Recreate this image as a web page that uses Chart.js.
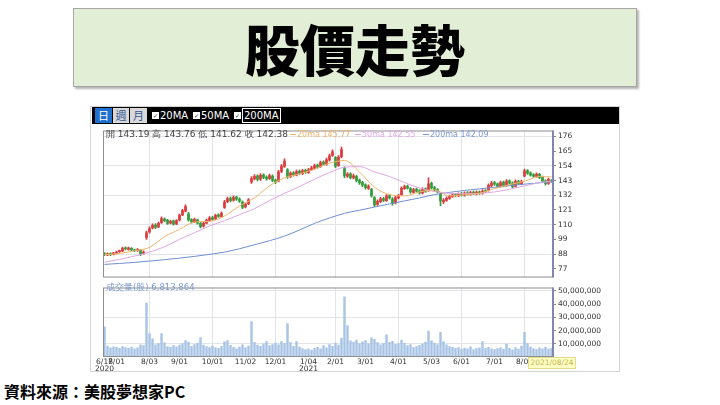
<!DOCTYPE html>
<html>
<head>
<meta charset="utf-8">
<script src="https://cdn.jsdelivr.net/npm/chart.js"></script>
<style>
  body { margin:0; width:720px; height:405px; background:#fff; position:relative; overflow:hidden; font-family:"DejaVu Sans", sans-serif; }
  .abs { position:absolute; white-space:nowrap; }
  #title { left:73px; top:8px; width:562px; height:77px; background:#e2efd6; border:1px solid #a6a6a6;
           box-shadow:2px 2px 2px #b4b4b4; font-family:"Noto Sans CJK TC", sans-serif; font-weight:900;
           font-size:55px; line-height:77px; text-align:center; color:#000; }
  #frame { left:90px; top:106px; width:528px; height:264px; border:1px solid #d4d4d4; background:#fff; }
  #toolbar { left:92px; top:107px; width:527px; height:17px; background:#000; }
  .btn { top:108px; height:15px; width:17px; font-family:"Noto Sans CJK TC", sans-serif; font-size:11px; line-height:15px; text-align:center; }
  .chk { top:112px; width:7px; height:7px; background:#fff; color:#222; font-size:6px; line-height:7px; text-align:center; }
  .ma { top:109px; color:#fff; font-size:10px; line-height:13px; }
  canvas { position:absolute; }
  .leg { font-size:9px; line-height:11px; }
  .mal { font-size:8px; line-height:11px; }
  .dash { display:inline-block; width:6px; height:0; border-top:1px solid; vertical-align:middle; margin-right:1px; }
</style>
</head>
<body>
<div id="title" class="abs">股價走勢</div>
<div id="frame" class="abs"></div>
<div id="toolbar" class="abs"></div>
<div class="abs btn" style="left:95px;background:#1f6fd0;color:#fff;">日</div>
<div class="abs btn" style="left:113px;width:16px;background:#d9d9d9;color:#35589a;">週</div>
<div class="abs btn" style="left:130px;background:#d9d9d9;color:#35589a;">月</div>
<div class="abs chk" style="left:152px;">✓</div>
<div class="abs ma" style="left:160px;">20MA</div>
<div class="abs chk" style="left:193px;">✓</div>
<div class="abs ma" style="left:201px;">50MA</div>
<div class="abs chk" style="left:234px;">✓</div>
<div class="abs ma" style="left:242px;top:108px;border:1px solid #fff;padding:0 1px;">200MA</div>

<canvas id="priceChart" width="527" height="160" style="left:92px;top:124px;"></canvas>
<canvas id="volChart" width="527" height="92" style="left:92px;top:281px;"></canvas>

<div class="abs leg" style="left:106px;top:129px;color:#444;">開 143.19 高 143.76 低 141.62 收 142.38</div>
<div class="abs mal" style="left:290px;top:129px;color:#f0b26a;"><span class="dash"></span>20ma 145.77</div>
<div class="abs mal" style="left:355px;top:129px;color:#e0a6e6;"><span class="dash"></span>50ma 142.55</div>
<div class="abs mal" style="left:423px;top:129px;color:#7d9ad6;"><span class="dash"></span>200ma 142.09</div>
<div class="abs leg" style="left:106px;top:282px;color:#7d9bd0;font-size:8.5px;">成交量(股) 6,813,864</div>
<div class="abs" style="left:528px;top:357px;width:46px;height:10px;background:#ffffc8;border:1px solid #e6d98a;color:#c9b54a;font-size:7.5px;line-height:10px;text-align:center;">2021/08/24</div>

<div class="abs" style="left:4px;top:381px;font-family:'Noto Sans CJK TC', sans-serif;font-weight:700;font-size:16px;line-height:20px;color:#000;">資料來源：美股夢想家PC</div>

<script>
// two trading days per candle, 2020/06/18 .. 2021/08/24
const opens = [
  88.4, 87.4, 88.3, 87.8, 88.6, 89.8, 90.4, 92.6, 91.5, 92.3,
  91.0, 90.6, 91.0, 88.3, 100.5, 104.5, 107.5, 109.8, 108.4, 111.5,
  114.2, 113.4, 111.2, 112.8, 110.6, 113.5, 117.4, 120.2, 118.0, 113.8,
  112.2, 113.6, 111.0, 108.8, 111.2, 113.2, 115.4, 114.3, 117.4, 116.0,
  123.0, 127.2, 129.8, 128.3, 130.6, 129.2, 127.0, 123.2, 125.8, 142.0,
  144.2, 146.5, 144.0, 147.2, 145.6, 144.5, 146.4, 143.4, 142.5, 149.8,
  153.5, 151.0, 146.0, 148.8, 147.0, 150.0, 148.2, 150.6, 149.0, 151.2,
  152.3, 154.5, 153.4, 156.8, 155.0, 158.4, 161.8, 160.2, 154.2, 160.8,
  152.0, 146.3, 148.0, 145.0, 146.2, 143.4, 141.6, 139.8, 137.2, 136.5,
  130.2, 125.2, 127.2, 129.6, 128.0, 131.8, 129.4, 126.2, 130.0, 132.4,
  137.0, 138.8, 137.0, 134.2, 136.5, 135.4, 133.6, 136.8, 135.4, 141.0,
  137.8, 136.2, 133.0, 127.2, 128.2, 129.6, 131.0, 132.6, 131.6, 133.4,
  132.0, 133.9, 132.6, 134.4, 133.0, 134.6, 133.4, 135.4, 135.6, 139.2,
  141.5, 140.6, 138.4, 141.8, 139.4, 142.8, 141.2, 138.6, 142.4, 140.6,
  146.5, 150.4, 148.8, 147.4, 146.0, 147.6, 145.6, 142.8, 140.8, 143.19
];
const highs = [
  89.2, 88.9, 89.0, 89.4, 90.3, 91.0, 93.2, 93.4, 93.3, 92.9,
  91.8, 92.2, 91.5, 90.4, 105.2, 108.4, 110.6, 110.9, 112.0, 115.8,
  115.2, 114.0, 113.4, 113.5, 113.8, 118.0, 121.4, 124.8, 119.2, 114.6,
  115.0, 114.2, 111.8, 111.9, 114.2, 116.1, 116.2, 117.9, 118.2, 119.6,
  128.2, 130.6, 130.8, 131.5, 131.4, 130.0, 127.8, 126.4, 129.6, 146.0,
  147.4, 147.2, 148.2, 148.0, 146.6, 147.8, 147.2, 144.2, 150.6, 155.0,
  159.2, 152.0, 149.6, 149.8, 150.8, 151.0, 151.4, 151.6, 152.1, 153.6,
  155.3, 155.4, 157.5, 157.8, 159.8, 162.8, 166.0, 161.0, 161.6, 168.0,
  153.2, 149.0, 148.8, 147.8, 147.0, 144.2, 142.4, 140.6, 139.8, 137.2,
  131.0, 128.6, 130.4, 130.5, 132.6, 132.8, 130.2, 131.2, 132.8, 138.4,
  139.6, 139.7, 137.8, 137.2, 137.4, 136.2, 137.6, 137.6, 145.0, 141.8,
  138.6, 137.0, 133.8, 129.6, 130.8, 132.2, 133.3, 133.5, 133.9, 134.2,
  134.5, 134.7, 135.0, 135.2, 135.3, 135.4, 136.2, 136.3, 140.6, 142.4,
  142.5, 141.4, 142.6, 142.6, 143.8, 143.6, 142.0, 143.6, 143.2, 143.4,
  151.6, 151.2, 149.6, 148.2, 148.8, 148.4, 146.4, 143.6, 144.8, 143.76
];
const lows = [
  86.8, 86.9, 86.9, 87.3, 88.1, 89.2, 89.9, 91.2, 90.9, 90.6,
  89.8, 90.0, 86.8, 87.9, 99.0, 103.6, 106.8, 107.1, 107.8, 110.9,
  112.1, 110.2, 110.5, 109.6, 110.0, 112.9, 116.8, 119.6, 112.6, 111.2,
  111.6, 110.4, 107.6, 108.2, 110.6, 112.5, 113.2, 113.8, 115.4, 115.4,
  122.2, 126.5, 127.1, 127.6, 128.2, 126.6, 122.0, 122.5, 125.0, 140.8,
  143.4, 142.8, 143.2, 144.4, 143.3, 143.8, 142.2, 140.6, 142.0, 149.0,
  152.8, 144.6, 145.2, 146.3, 146.4, 147.6, 147.5, 148.4, 148.3, 150.5,
  151.6, 152.2, 152.8, 154.4, 154.3, 157.6, 161.0, 152.6, 153.5, 160.0,
  145.2, 145.4, 144.2, 144.3, 142.0, 140.2, 138.5, 136.6, 136.4, 130.6,
  123.4, 124.4, 126.5, 127.3, 127.4, 129.1, 124.6, 125.6, 129.3, 131.8,
  136.3, 136.5, 133.6, 133.5, 134.3, 132.9, 133.0, 134.2, 134.8, 136.6,
  134.9, 133.7, 124.2, 125.8, 127.4, 128.9, 130.4, 131.0, 131.0, 131.4,
  131.4, 132.0, 132.0, 132.4, 132.3, 132.7, 132.8, 134.0, 135.0, 138.5,
  139.4, 137.6, 137.8, 138.3, 138.8, 140.1, 137.4, 138.0, 139.9, 139.8,
  145.8, 147.6, 146.2, 145.3, 145.4, 144.4, 141.6, 139.6, 140.2, 141.62
];
const closes = [
  87.5, 88.2, 87.6, 88.8, 89.5, 90.2, 92.4, 91.8, 92.6, 91.2,
  90.5, 91.4, 88.0, 89.5, 104.0, 107.0, 109.5, 108.0, 111.0, 114.5,
  113.0, 111.0, 112.5, 110.4, 113.0, 117.0, 120.5, 123.5, 113.5, 112.0,
  114.0, 111.2, 108.5, 111.0, 113.4, 115.2, 114.0, 117.0, 116.2, 118.5,
  127.0, 129.5, 128.0, 130.4, 129.0, 127.5, 123.0, 125.5, 128.6, 144.5,
  146.2, 143.8, 147.0, 145.3, 144.2, 146.8, 143.1, 141.8, 149.5, 153.8,
  157.6, 145.8, 148.6, 147.2, 149.8, 148.4, 150.3, 149.2, 151.0, 152.5,
  154.2, 153.1, 156.4, 155.2, 158.6, 161.5, 164.5, 153.8, 160.5, 166.2,
  146.5, 147.8, 145.2, 146.6, 143.0, 141.2, 139.5, 137.6, 138.8, 131.5,
  124.8, 127.5, 129.4, 128.2, 131.5, 130.0, 125.8, 130.2, 131.8, 137.2,
  138.5, 137.4, 134.5, 136.2, 135.1, 133.8, 136.5, 135.0, 140.5, 137.5,
  135.8, 134.6, 127.8, 128.5, 129.8, 131.2, 132.4, 131.8, 133.0, 132.2,
  133.6, 132.8, 134.1, 133.2, 134.4, 133.5, 135.2, 134.8, 139.5, 141.2,
  140.3, 138.6, 141.5, 139.2, 142.6, 141.0, 138.4, 142.5, 140.8, 142.3,
  150.2, 148.6, 147.1, 146.2, 147.8, 145.3, 142.5, 140.6, 143.9, 142.38
];
// volume in millions of shares
const volumesM = [
  23, 8.5, 7.2, 8.0, 7.5, 6.8, 8.2, 7.4, 6.9, 7.8,
  6.5, 7.2, 9.5, 8.8, 41, 18, 14, 9.5, 10.5, 18,
  11, 8.2, 7.6, 8.8, 7.9, 9.2, 10.4, 12.7, 11.5, 8.4,
  9.6, 10.8, 15, 9.2, 8.1, 7.4, 8.6, 7.2, 6.8, 8.4,
  11.8, 12.7, 9.0, 7.6, 6.4, 7.8, 9.4, 7.2, 8.6, 27,
  11.4, 9.2, 8.4, 10.2, 12, 8.8, 9.6, 10.8, 9.4, 12,
  10.6, 25.5, 11.2, 8.4, 12, 7.8, 6.6, 5.8, 6.2, 5.4,
  6.8, 7.6, 6.4, 8.8, 7.2, 9.6, 8.4, 10.8, 9.2, 14.5,
  45.7, 24, 12.4, 11.6, 13, 10.4, 11.8, 12.6, 10.2, 14.8,
  13.6, 11.2, 9.4, 10.6, 17, 11.4, 12.2, 9.8, 10.4, 13,
  10.6, 8.8, 9.6, 7.4, 8.2, 9.0, 10.2, 11.6, 19.8, 12.4,
  10.8, 9.6, 19, 12, 9.4, 8.2, 7.6, 6.8, 7.4, 6.2,
  7.0, 6.4, 8.0, 5.8, 6.6, 7.2, 12, 6.8, 7.6, 6.4,
  5.8, 6.6, 7.2, 6.0, 10, 6.8, 5.6, 7.4, 6.2, 8.6,
  19, 10.4, 7.8, 6.6, 5.8, 7.2, 6.4, 7.8, 6.2, 6.813864
];

// moving averages read at every 5th candle
const maIdx = [0, 5, 10, 15, 20, 25, 30, 35, 40, 45, 50, 55, 60, 65, 70, 75,
               80, 85, 90, 95, 100, 105, 110, 115, 120, 125, 130, 135, 140, 145, 149];
const ma20 = [87.5, 88.5, 90.5, 93, 101, 106.5, 112, 112.5, 116.5, 124, 130, 139, 145, 148, 151.5, 156,
              158, 149.5, 138, 132.5, 131.5, 134.5, 136, 131.5, 132.5, 133.5, 137, 140, 142.5, 146, 145.77];
const ma50 = [82, 84, 86.5, 89.5, 93.5, 99, 104, 109, 113, 117.5, 122, 128, 133.5, 138.5, 144, 149,
              153, 153.5, 149.5, 146, 141.5, 137.5, 134.8, 133.5, 133.2, 133.5, 134.5, 136.5, 139, 141.5, 142.55];
const ma200 = [80.3, 81, 81.8, 82.8, 83.8, 85, 86.3, 87.8, 89.5, 92, 95, 98, 101.5, 106, 111, 115,
               118.5, 120.8, 123.2, 125.5, 127.8, 130, 132.5, 134.2, 135.6, 136.8, 138, 139.2, 140.3, 141.3, 142.09];

const priceTicks = [77, 88, 99, 110, 121, 132, 143, 154, 165, 176];
const priceGrid = [88, 110, 132, 154, 176];
const volumeTicks = [10000000, 20000000, 30000000, 40000000, 50000000];
const volumeGrid = [10000000, 30000000, 50000000];

const tickIdx  = [0, 4, 15, 25, 36, 47, 57, 68, 77, 87, 98, 109, 119, 130, 140];
const tickText = ["6/18", "7/01", "8/03", "9/01", "10/01", "11/02", "12/01", "1/04", "2/01", "3/01", "4/01", "5/03", "6/01", "7/01", "8/02"];
const yearText = ["2020", "", "", "", "", "", "", "2021", "", "", "", "", "", "", ""];
const gridText = ["8/03", "10/01", "12/01", "2/01", "4/01", "6/01", "8/02"];

const labels = closes.map((c, i) => i);
const upColor = "#dc3a3c";
const downColor = "#349c3a";
const candleColors = closes.map((c, i) => c >= opens[i] ? upColor : downColor);
const clear = "rgba(0,0,0,0)";

function maPoints(values) {
    return maIdx.map((idx, k) => ({ x: idx, y: values[k] }));
}

function setDateTicks(scale) {
    scale.ticks = tickIdx.map(v => ({ value: v }));
}

function dateGridColor(ctx) {
    return gridText.includes(tickText[ctx.index]) ? "#e3e3ea" : clear;
}

// panel frame like the original chart
const panelFrame = {
    id: "panelFrame",
    afterDraw(chart) {
        const { ctx, chartArea: a } = chart;
        ctx.save();
        ctx.strokeStyle = "#8e8e8e";
        ctx.lineWidth = 1;
        ctx.strokeRect(a.left + 0.5, a.top + 0.5, a.width - 1, a.height - 1);
        ctx.strokeStyle = "#7f86b0";
        ctx.lineWidth = 2;
        ctx.beginPath();
        ctx.moveTo(a.right, a.top);
        ctx.lineTo(a.right, a.bottom);
        ctx.stroke();
        ctx.restore();
    }
};

const axisFont = { family: "DejaVu Sans", size: 7.5 };

new Chart(document.getElementById("priceChart"), {
    type: "bar",
    data: {
        labels: labels,
        datasets: [
            { type: "line", label: "20ma", data: maPoints(ma20), borderColor: "#f2b46e", borderWidth: 1,
              pointRadius: 0, cubicInterpolationMode: "monotone", order: 0 },
            { type: "line", label: "50ma", data: maPoints(ma50), borderColor: "#e3a6e6", borderWidth: 1,
              pointRadius: 0, cubicInterpolationMode: "monotone", order: 1 },
            { type: "line", label: "200ma", data: maPoints(ma200), borderColor: "#6f8fd0", borderWidth: 1,
              pointRadius: 0, cubicInterpolationMode: "monotone", order: 2 },
            { label: "body", data: opens.map((o, i) => [o, closes[i]]), backgroundColor: candleColors,
              barThickness: 2, minBarLength: 1, grouped: false, order: 3 },
            { label: "wick", data: lows.map((l, i) => [l, highs[i]]), backgroundColor: candleColors,
              barThickness: 1, grouped: false, order: 4 }
        ]
    },
    options: {
        responsive: false,
        animation: false,
        layout: { padding: { left: 11, top: 4, right: 0, bottom: 3 } },
        plugins: { legend: { display: false }, tooltip: { enabled: false } },
        scales: {
            x: {
                offset: true,
                afterBuildTicks: setDateTicks,
                ticks: { display: false, autoSkip: false },
                grid: { offset: false, drawTicks: false, color: dateGridColor },
                border: { display: false }
            },
            y: {
                position: "right",
                min: 70.5,
                max: 180.45,
                afterBuildTicks: s => { s.ticks = priceTicks.map(v => ({ value: v })); },
                afterFit: s => { s.width = 66; },
                ticks: { color: "#333", font: axisFont, padding: 2 },
                grid: { color: ctx => priceGrid.includes(ctx.tick.value) ? "#e3e3ea" : clear,
                        tickColor: "#888", tickLength: 3 },
                border: { display: false }
            }
        }
    },
    plugins: [panelFrame]
});

new Chart(document.getElementById("volChart"), {
    type: "bar",
    data: {
        labels: labels,
        datasets: [{
            label: "成交量",
            data: volumesM.map(v => v * 1000000),
            backgroundColor: "#a7c3e6",
            barPercentage: 0.8,
            categoryPercentage: 1
        }]
    },
    options: {
        responsive: false,
        animation: false,
        layout: { padding: { left: 11, top: 1, right: 0, bottom: 0 } },
        plugins: { legend: { display: false }, tooltip: { enabled: false } },
        scales: {
            x: {
                offset: true,
                afterBuildTicks: setDateTicks,
                afterFit: s => { s.height = 16; },
                ticks: {
                    autoSkip: false, maxRotation: 0, padding: 1, color: "#333",
                    font: { family: "DejaVu Sans", size: 7.5, lineHeight: 0.95 },
                    callback: (v, i) => yearText[i] ? [tickText[i], yearText[i]] : tickText[i]
                },
                grid: { offset: false, drawTicks: false, color: dateGridColor },
                border: { display: false }
            },
            y: {
                position: "right",
                min: 0,
                max: 52600000,
                afterBuildTicks: s => { s.ticks = volumeTicks.map(v => ({ value: v })); },
                afterFit: s => { s.width = 66; },
                ticks: { color: "#333", font: axisFont, padding: 2,
                         callback: v => v.toLocaleString("en-US") },
                grid: { color: ctx => volumeGrid.includes(ctx.tick.value) ? "#e3e3ea" : clear,
                        tickColor: "#888", tickLength: 3 },
                border: { display: false }
            }
        }
    },
    plugins: [panelFrame]
});
</script>
</body>
</html>
